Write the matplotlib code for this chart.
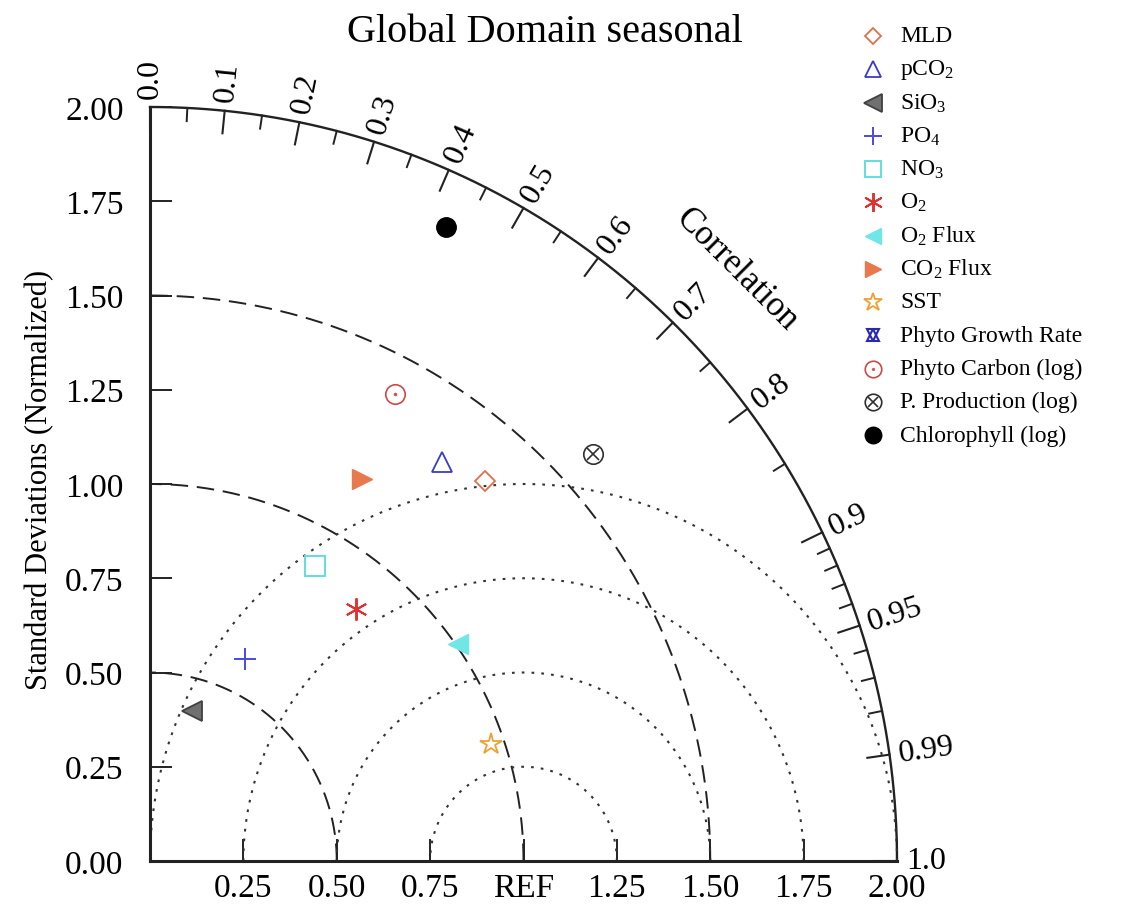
import numpy as np
import matplotlib
matplotlib.use('Agg')
import matplotlib.pyplot as plt
from matplotlib.lines import Line2D

plt.rcParams['font.family'] = ['Liberation Serif', 'DejaVu Serif']
plt.rcParams['mathtext.fontset'] = 'custom'
plt.rcParams['mathtext.rm'] = 'Liberation Serif'
plt.rcParams['mathtext.it'] = 'Liberation Serif:italic'
plt.rcParams['mathtext.bf'] = 'Liberation Serif:bold'

# ---------------- data ----------------
title = 'Global Domain seasonal'
names = ['MLD', 'pCO$_2$', 'SiO$_3$', 'PO$_4$', 'NO$_3$', 'O$_2$', 'O$_2$ Flux',
         'CO$_2$ Flux', 'SST', 'Phyto Growth Rate', 'Phyto Carbon (log)',
         'P. Production (log)', 'Chlorophyll (log)']
std_norm = [1.349, 1.316, 0.414, 0.593, 0.898, 0.867, 1.006, 1.161, 0.964,
            np.nan, 1.402, 1.604, 1.859]
corr = [0.665, 0.594, 0.272, 0.429, 0.492, 0.636, 0.820, 0.489, 0.947,
        np.nan, 0.468, 0.739, 0.426]

std_ticks = [0.0, 0.25, 0.5, 0.75, 1.0, 1.25, 1.5, 1.75, 2.0]
x_tick_labels = ['', '0.25', '0.50', '0.75', 'REF', '1.25', '1.50', '1.75', '2.00']
y_tick_labels = ['0.00', '0.25', '0.50', '0.75', '1.00', '1.25', '1.50', '1.75', '2.00']
corr_major = [0.0, 0.1, 0.2, 0.3, 0.4, 0.5, 0.6, 0.7, 0.8, 0.9, 0.95, 0.99, 1.0]
corr_major_labels = ['0.0', '0.1', '0.2', '0.3', '0.4', '0.5', '0.6', '0.7',
                     '0.8', '0.9', '0.95', '0.99', '1.0']
corr_minor = [0.05, 0.15, 0.25, 0.35, 0.45, 0.55, 0.65, 0.75, 0.85,
              0.91, 0.92, 0.93, 0.94, 0.96, 0.97, 0.98]
std_arcs = [0.5, 1.0, 1.5]
rms_arcs = [0.25, 0.5, 0.75, 1.0]
ref_std = 1.0
max_std = 2.0

# marker styles (layers drawn on top of each other)
styles = [
    [dict(marker='D', ms=10, mfc='none', mec='#e0704a', mew=1.3)],
    [dict(marker='^', ms=14, mfc='none', mec='#3a3ac8', mew=1.3)],
    [dict(marker='<', ms=15, mfc='#707070', mec='#404040', mew=1.3)],
    [dict(marker='+', ms=16, mfc='none', mec='#4a4ae0', mew=1.4)],
    [dict(marker='s', ms=14, mfc='none', mec='#60dede', mew=1.4)],
    [dict(marker=(6, 2, 0), ms=16, mfc='none', mec='#e03030', mew=1.4)],
    [dict(marker='<', ms=14, mfc='#70e6e6', mec='#70e6e6', mew=1.0)],
    [dict(marker='>', ms=14, mfc='#e8784e', mec='#e8784e', mew=1.0)],
    [dict(marker='*', ms=16, mfc='none', mec='#f0a030', mew=1.3)],
    [dict(marker='^', ms=11, mfc='none', mec='#2828b0', mew=1.5),
     dict(marker='v', ms=11, mfc='none', mec='#2828b0', mew=1.5)],
    [dict(marker='o', ms=14, mfc='none', mec='#d04848', mew=1.2),
     dict(marker='.', ms=4, mfc='#d04848', mec='#d04848', mew=0.5)],
    [dict(marker='o', ms=14, mfc='none', mec='#303030', mew=1.2),
     dict(marker='x', ms=8, mfc='none', mec='#303030', mew=1.2)],
    [dict(marker='o', ms=14, mfc='black', mec='black', mew=1.0)],
]

W, H = 1126, 920
fig = plt.figure(figsize=(W / 100, H / 100), dpi=100)
x0_px, y0_px = 150, 862
x2_px, y2_px = 897, 108
ax = fig.add_axes([x0_px / W, (H - y0_px) / H, (x2_px - x0_px) / W, (y0_px - y2_px) / H])
ax.set_xlim(0, max_std)
ax.set_ylim(0, max_std)
ax.spines['top'].set_visible(False)
ax.spines['right'].set_visible(False)
for s in ['left', 'bottom']:
    ax.spines[s].set_linewidth(2.2)
    ax.spines[s].set_color('#222222')

ax.set_xticks(std_ticks)
ax.set_xticklabels(x_tick_labels)
ax.set_yticks(std_ticks)
ax.set_yticklabels(y_tick_labels)
ax.tick_params(axis='both', direction='in', length=16, width=1.4, labelsize=24,
               color='#222222')
ax.tick_params(axis='y', pad=19)
ax.tick_params(axis='x', pad=8)

# outer arc
th = np.linspace(0, np.pi / 2, 400)
ax.plot(max_std * np.cos(th), max_std * np.sin(th), color='#222222', lw=1.7, clip_on=False)

# std dev arcs (dashed)
for r in std_arcs:
    ax.plot(r * np.cos(th), r * np.sin(th), color='#222222', lw=1.4,
            ls=(0, (9, 4.5)), clip_on=False)

# RMS arcs centred on REF (dotted)
tt = np.linspace(0, np.pi, 600)
for r in rms_arcs:
    xx = ref_std + r * np.cos(tt)
    yy = r * np.sin(tt)
    keep = np.hypot(xx, yy) <= max_std + 1e-9
    ax.plot(xx[keep], yy[keep], color='#333333', lw=1.5, ls=(0, (1.3, 3.4)),
            clip_on=False)

# correlation ticks & labels
for c, lab in zip(corr_major, corr_major_labels):
    a = np.arccos(c)
    ax.plot([max_std * np.cos(a), (max_std - 0.06) * np.cos(a)],
            [max_std * np.sin(a), (max_std - 0.06) * np.sin(a)],
            color='#222222', lw=1.5, clip_on=False)
    ax.text(2.025 * np.cos(a), 2.025 * np.sin(a), lab, rotation=np.degrees(a),
            rotation_mode='anchor', ha='left', va='center', fontsize=23)
for c in corr_minor:
    a = np.arccos(c)
    ax.plot([max_std * np.cos(a), (max_std - 0.035) * np.cos(a)],
            [max_std * np.sin(a), (max_std - 0.035) * np.sin(a)],
            color='#222222', lw=1.4, clip_on=False)

a_lab = np.radians(45.0)
ax.text(2.22 * np.cos(a_lab), 2.22 * np.sin(a_lab), 'Correlation', rotation=-45,
        rotation_mode='anchor', ha='center', va='center', fontsize=25)

# data points
for s_, c_, st in zip(std_norm, corr, styles):
    a = np.arccos(c_)
    for layer in st:
        ax.plot([s_ * np.cos(a)], [s_ * np.sin(a)], ls='none', clip_on=False, **layer)

# manual legend
leg_mx, leg_tx, leg_y0, leg_dy = 873, 900, 37, 33.25
for i, (nm, st) in enumerate(zip(names, styles)):
    yp = leg_y0 + i * leg_dy
    for layer in st:
        lay = dict(layer)
        lay['ms'] = lay['ms'] * 0.85
        fig.add_artist(Line2D([leg_mx / W], [1 - yp / H], transform=fig.transFigure,
                              ls='none', **lay))
    fig.text(leg_tx / W, 1 - yp / H, nm, ha='left', va='center', fontsize=17)

fig.text(545 / W, 1 - 32 / H, title, ha='center', va='center', fontsize=29)
fig.text(40 / W, 1 - 480 / H, 'Standard Deviations (Normalized)', rotation=90,
         ha='center', va='center', fontsize=22)

fig.savefig('out.png', dpi=100)
